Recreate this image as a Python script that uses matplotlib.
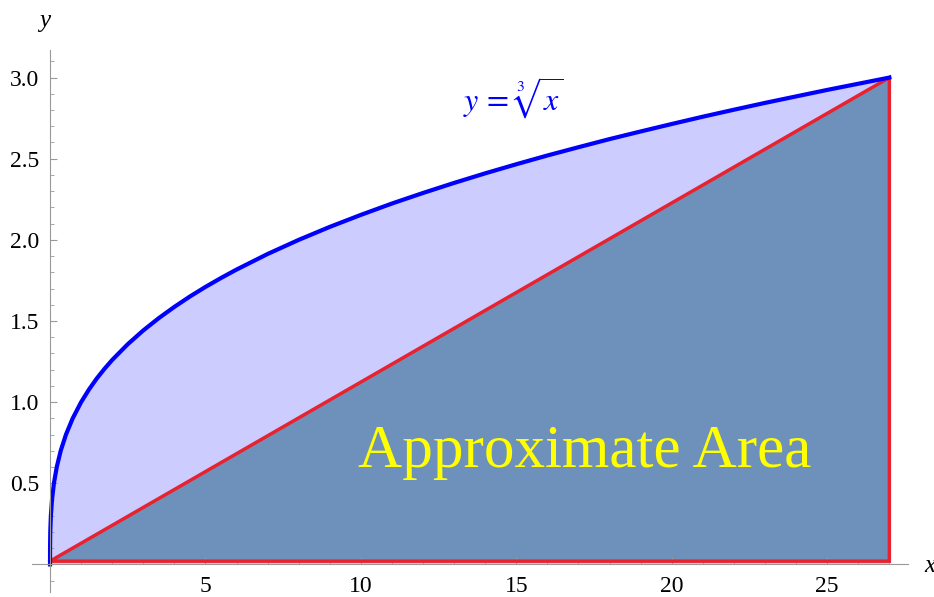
import numpy as np
import matplotlib
matplotlib.use('Agg')
import matplotlib.pyplot as plt
from matplotlib.ticker import MultipleLocator, FixedLocator, FormatStrFormatter

plt.rcParams['font.family'] = ['Liberation Serif', 'DejaVu Serif']
plt.rcParams['mathtext.fontset'] = 'stix'

# curve y = cube root of x
curve_x = [0, 0.001, 0.008, 0.027, 0.064, 0.125, 0.216, 0.343, 0.512, 0.729, 1,
           1.25, 1.5, 1.75, 2, 2.5, 3, 3.5, 4, 4.5, 5, 5.5, 6, 7, 8, 9, 10,
           11, 12, 13, 14, 15, 16, 17, 18, 19, 20, 21, 22, 23, 24, 25, 26, 27]
curve_y = [0, 0.1, 0.2, 0.3, 0.4, 0.5, 0.6, 0.7, 0.8, 0.9, 1.0,
           1.077, 1.145, 1.205, 1.26, 1.357, 1.442, 1.518, 1.587, 1.651, 1.71, 1.765, 1.817, 1.913, 2.0, 2.08, 2.154,
           2.224, 2.289, 2.351, 2.41, 2.466, 2.52, 2.571, 2.621, 2.668, 2.714, 2.759, 2.802, 2.844, 2.884, 2.924, 2.962, 3.0]

# triangle approximating the area (vertices)
tri_x = [0, 27, 27, 0]
tri_y = [0.02, 3.0, 0.02, 0.02]

xticks_major = [5, 10, 15, 20, 25]
yticks_major = [0.5, 1.0, 1.5, 2.0, 2.5, 3.0]

light = '#CCCCFF'
dark = '#6E91BC'
red = '#E8232F'
gray = '#999999'

fig = plt.figure(figsize=(9.34, 5.97), dpi=100)
ax = fig.add_axes([32 / 934, 5 / 597, 876 / 934, 542 / 597])

ax.fill_between(curve_x, 0, curve_y, color=light, lw=0)
ax.fill(tri_x, tri_y, color=dark, lw=0)
ax.plot(tri_x, tri_y, color=red, lw=2.5, solid_joinstyle='miter')
ax.plot(curve_x, curve_y, color='blue', lw=3, solid_joinstyle='round')

ax.text(14.9, 2.87, r'$y\,=\,\sqrt[3]{x}$', color='blue', fontsize=23,
        ha='center', va='center')
ax.text(17.2, 0.69, 'Approximate Area', color='#FFFF00', fontsize=44,
        ha='center', va='center')

ax.set_xlim(-0.58, 27.6)
ax.set_ylim(-0.17, 3.17)

for side in ['top', 'right']:
    ax.spines[side].set_visible(False)
for side in ['left', 'bottom']:
    ax.spines[side].set_position(('data', 0))
    ax.spines[side].set_color(gray)

ax.xaxis.set_major_locator(FixedLocator(xticks_major))
ax.xaxis.set_minor_locator(MultipleLocator(1))
ax.yaxis.set_major_locator(FixedLocator(yticks_major))
ax.yaxis.set_minor_locator(MultipleLocator(0.1))
ax.yaxis.set_major_formatter(FormatStrFormatter('%.1f'))
ax.tick_params(which='both', direction='in', color=gray, labelsize=17, pad=8)
ax.tick_params(which='major', length=5)
ax.tick_params(which='minor', length=3)
ax.patch.set_alpha(0)

ax.text(-0.16, 3.35, 'y', style='italic', fontsize=18, ha='center', va='center', clip_on=False)
ax.text(28.3, -0.01, 'x', style='italic', fontsize=18, ha='center', va='center', clip_on=False)

fig.savefig('out.png', dpi=100)
